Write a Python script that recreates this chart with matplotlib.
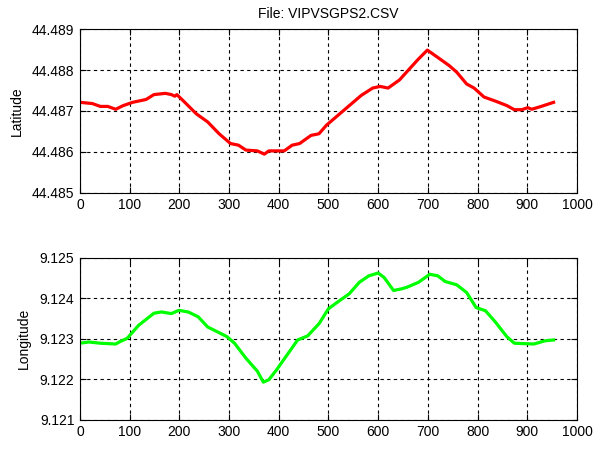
import numpy as np
import matplotlib
matplotlib.use("Agg")
import matplotlib.pyplot as plt
from matplotlib.ticker import FormatStrFormatter

# sample index vs latitude
lat_x = [0, 25, 41, 56, 72, 87, 106, 133, 149, 172, 184, 191, 195, 211, 234, 257,
         280, 303, 319, 334, 357, 371, 380, 411, 427, 442, 465, 481, 496, 519, 542,
         566, 589, 604, 620, 643, 666, 681, 699, 720, 743, 758, 778, 793, 813, 836,
         859, 874, 889, 901, 909, 928, 953]
lat_y = [44.48721, 44.48718, 44.48711, 44.48711, 44.48704, 44.48713, 44.48721,
         44.48728, 44.48740, 44.48743, 44.48740, 44.48736, 44.48740, 44.48721,
         44.48693, 44.48673, 44.48644, 44.48620, 44.48616, 44.48604, 44.48602,
         44.48594, 44.48602, 44.48602, 44.48616, 44.48620, 44.48640, 44.48644,
         44.48665, 44.48689, 44.48713, 44.48738, 44.48756, 44.48760, 44.48756,
         44.48776, 44.48807, 44.48827, 44.48849, 44.48831, 44.48811, 44.48795,
         44.48766, 44.48756, 44.48734, 44.48724, 44.48713, 44.48703, 44.48703,
         44.48708, 44.48704, 44.48711, 44.48721]

# sample index vs longitude
lon_x = [0, 18, 41, 72, 79, 95, 118, 149, 164, 184, 199, 218, 238, 257, 280, 296,
         311, 334, 357, 369, 380, 396, 419, 438, 458, 481, 500, 519, 542, 562, 581,
         600, 612, 631, 647, 658, 681, 704, 720, 735, 758, 778, 797, 816, 836, 859,
         874, 913, 936, 953]
lon_y = [9.12289, 9.12292, 9.12289, 9.12287, 9.12292, 9.12301, 9.12333, 9.12363,
         9.12366, 9.12362, 9.12370, 9.12366, 9.12354, 9.12329, 9.12315, 9.12305,
         9.12289, 9.12252, 9.12220, 9.12193, 9.12199, 9.12224, 9.12264, 9.12297,
         9.12307, 9.12337, 9.12374, 9.12391, 9.12411, 9.12439, 9.12455, 9.12462,
         9.12451, 9.12419, 9.12423, 9.12427, 9.12439, 9.12459, 9.12455, 9.12441,
         9.12433, 9.12414, 9.12377, 9.12369, 9.12341, 9.12305, 9.12289, 9.12287,
         9.12295, 9.12297]

plt.rcParams['font.family'] = ['Liberation Sans', 'DejaVu Sans']
plt.rcParams['font.size'] = 10

fig = plt.figure(figsize=(6.01, 4.65), dpi=100)
ax1 = fig.add_axes([0.133, 0.586, 0.827, 0.351])   # top panel
ax2 = fig.add_axes([0.133, 0.097, 0.827, 0.349])   # bottom panel

def style(ax, ylo, yhi):
    ax.set_xlim(0, 1000)
    ax.set_ylim(ylo, yhi)
    ax.set_xticks(np.arange(0, 1001, 100))
    ax.set_yticks(np.linspace(ylo, yhi, 5))
    ax.yaxis.set_major_formatter(FormatStrFormatter('%.3f'))
    ax.grid(True, color='black', linestyle=(0, (3, 3)), linewidth=0.8)
    ax.tick_params(direction='in', top=True, right=True, length=4, pad=4)
    for s in ax.spines.values():
        s.set_linewidth(0.8)

ax1.plot(lat_x, lat_y, color='#ff0000', linewidth=2.3)
style(ax1, 44.485, 44.489)
ax1.set_ylabel('Latitude', labelpad=6)
ax1.set_title('File: VIPVSGPS2.CSV', fontsize=10, pad=8)

ax2.plot(lon_x, lon_y, color='#00ff00', linewidth=2.3)
style(ax2, 9.121, 9.125)
ax2.set_ylabel('Longitude', labelpad=6)

fig.savefig('out.png', dpi=100)
